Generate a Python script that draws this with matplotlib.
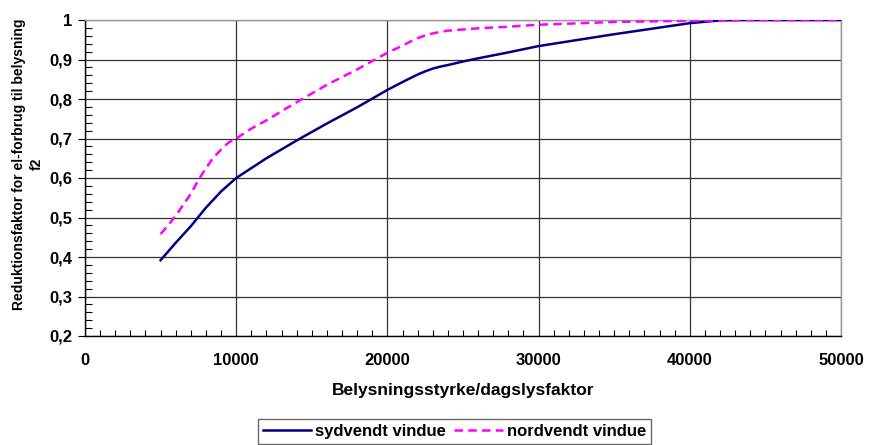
import matplotlib
matplotlib.use("Agg")
import matplotlib.pyplot as plt
from matplotlib.ticker import MultipleLocator, FuncFormatter

plt.rcParams['font.family'] = ['Liberation Sans', 'DejaVu Sans']
plt.rcParams['font.weight'] = 'bold'

x_syd = [5000, 6000, 7000, 8000, 9000, 10000, 12000, 14000, 16000, 18000, 20000,
         21000, 22000, 22500, 23000, 23500, 24000, 25000, 26000, 28000, 30000, 35000,
         40000, 42000, 43000, 50000]
y_syd = [0.392, 0.436, 0.478, 0.525, 0.566, 0.600, 0.650, 0.695, 0.738, 0.779, 0.823,
         0.843, 0.862, 0.870, 0.877, 0.882, 0.886, 0.895, 0.903, 0.918, 0.934, 0.964,
         0.992, 0.999, 1.0, 1.0]

x_nord = [5000, 5500, 6000, 6500, 7000, 7500, 8000, 8500, 9000, 9500, 10000, 11000, 12000,
          14000, 16000, 18000, 20000, 21000, 21500, 22000, 22500, 23000, 23500, 24000,
          25000, 26000, 28000, 30000, 35000, 40000, 45000, 50000]
y_nord = [0.458, 0.480, 0.505, 0.532, 0.560, 0.595, 0.625, 0.652, 0.672, 0.690, 0.700, 0.725,
          0.746, 0.792, 0.836, 0.875, 0.917, 0.935, 0.945, 0.954, 0.961, 0.966, 0.970, 0.973,
          0.976, 0.979, 0.983, 0.988, 0.995, 0.998, 1.0, 1.0]

series_labels = ["sydvendt vindue", "nordvendt vindue"]
xlabel = "Belysningsstyrke/dagslysfaktor"
ylabel = "Reduktionsfaktor for el-forbrug til belysning\nf2"

fig = plt.figure(figsize=(8.69, 4.45), dpi=100)
ax = fig.add_axes([85/869, 1-336/445, 756/869, 316/445])

ax.plot(x_syd, y_syd, color='#000080', lw=1.8, label=series_labels[0], zorder=3)
ax.plot(x_nord, y_nord, color='#FF00FF', lw=1.8, dashes=(3.4, 2.1),
        label=series_labels[1], zorder=3)

ax.set_xlim(0, 50000)
ax.set_ylim(0.2, 1.0)
ax.xaxis.set_major_locator(MultipleLocator(10000))
ax.xaxis.set_minor_locator(MultipleLocator(1000))
ax.yaxis.set_major_locator(MultipleLocator(0.1))
ax.yaxis.set_minor_locator(MultipleLocator(0.02))
ax.yaxis.set_major_formatter(FuncFormatter(lambda v, p: ('%g' % round(v, 2)).replace('.', ',')))
ax.xaxis.set_major_formatter(FuncFormatter(lambda v, p: '%d' % v))

ax.grid(True, which='major', color='#333333', lw=0.9, zorder=1)
ax.tick_params(axis='x', which='major', direction='in', length=0, labelsize=12, pad=12)
ax.tick_params(axis='x', which='minor', direction='in', length=4, width=0.8)
ax.tick_params(axis='y', which='major', direction='out', length=5, labelsize=12, pad=4)
ax.tick_params(axis='y', which='minor', direction='in', length=5, width=0.8)

for s in ['left', 'bottom']:
    ax.spines[s].set_color('black')
    ax.spines[s].set_linewidth(1.0)
for s in ['top', 'right']:
    ax.spines[s].set_color('#999999')
    ax.spines[s].set_linewidth(1.0)

ax.set_xlabel(xlabel, fontsize=12.5, fontweight='bold', labelpad=11)
ax.set_ylabel(ylabel, fontsize=10, fontweight='bold', linespacing=1.3)
ax.yaxis.set_label_coords(-0.055, 0.544)

leg = fig.legend(loc='lower center', bbox_to_anchor=(0.523, -0.016), ncol=2, frameon=True,
                 fancybox=False, edgecolor='#444444', fontsize=12, handlelength=2.9,
                 columnspacing=0.5, handletextpad=0.25, borderpad=0.3)
leg.get_frame().set_linewidth(1.0)

fig.savefig("out.png", dpi=100)
